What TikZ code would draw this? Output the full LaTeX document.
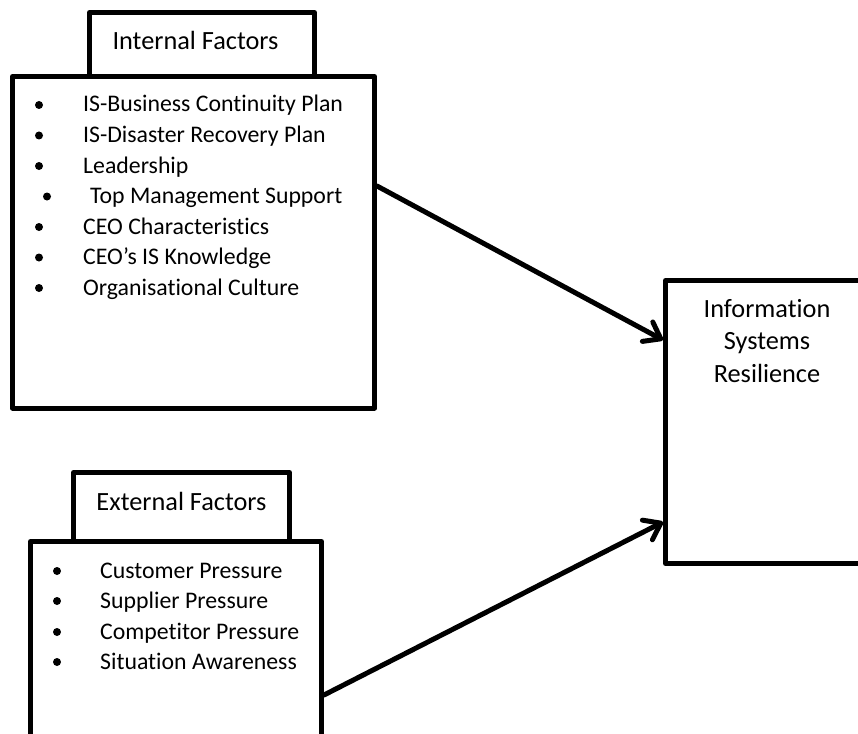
\documentclass[tikz,border=0pt]{standalone}
\usepackage{fontspec}
\setmainfont{Carlito}[Ligatures=NoCommon]
\usetikzlibrary{arrows.meta}
\tikzset{
  box/.style={draw=black, line width=5bp, rectangle, inner sep=0pt, line join=round},
  txt/.style={inner sep=0pt, font=\fontsize{23.8bp}{30.5bp}\selectfont},
  ttl/.style={inner sep=0pt, font=\fontsize{26.3bp}{32.5bp}\selectfont},
  bul/.style={circle, fill=black, inner sep=0pt, minimum size=8bp},
  link/.style={line width=5bp, line cap=round, -{Straight Barb[length=15bp,width=22bp,round]}}
}
\begin{document}
\begin{tikzpicture}[x=1bp,y=-1bp]
\clip (0,0) rectangle (858,734);
\fill[white] (0,0) rectangle (858,734);
% Internal factors
\node[box, minimum width=225bp, minimum height=64bp] (inttab) at (202,44.5) {};
\node[box, minimum width=362bp, minimum height=331.5bp] (intbox) at (193.5,242.25) {};
\node[ttl, anchor=base] (inttitle) at (195.5,50) {Internal Factors};
\node[bul] (ib1) at (39,105) {};
\node[bul] (ib2) at (39,135.5) {};
\node[bul] (ib3) at (39,166) {};
\node[bul] (ib4) at (47,196.5) {};
\node[bul] (ib5) at (39,227) {};
\node[bul] (ib6) at (39,257.5) {};
\node[bul] (ib7) at (39,288) {};
\node[txt, anchor=base west] (it1) at (83,112) {IS-Business Continuity Plan};
\node[txt, anchor=base west] (it2) at (83,142.5) {IS-Disaster Recovery Plan};
\node[txt, anchor=base west] (it3) at (83,173) {Leadership};
\node[txt, anchor=base west] (it4) at (90,203.5) {Top Management Support};
\node[txt, anchor=base west] (it5) at (83,234) {CEO Characteristics};
\node[txt, anchor=base west] (it6) at (83,264.5) {CEO’s IS Knowledge};
\node[txt, anchor=base west] (it7) at (83,295) {Organisational Culture};
% External factors
\node[box, minimum width=216bp, minimum height=69bp] (exttab) at (181.5,507) {};
\node[box, minimum width=291bp, minimum height=230bp] (extbox) at (176,656.5) {};
\node[ttl, anchor=base] (exttitle) at (181.5,510) {External Factors};
\node[bul] (eb1) at (57,571) {};
\node[bul] (eb2) at (57,601) {};
\node[bul] (eb3) at (57,632) {};
\node[bul] (eb4) at (57,662) {};
\node[txt, anchor=base west] (et1) at (100,578) {Customer Pressure};
\node[txt, anchor=base west] (et2) at (100,608) {Supplier Pressure};
\node[txt, anchor=base west] (et3) at (100,639) {Competitor Pressure};
\node[txt, anchor=base west] (et4) at (100,669) {Situation Awareness};
% Outcome
\node[box, minimum width=204bp, minimum height=283bp] (isr) at (767.5,422) {};
\node[ttl, anchor=base, align=center] (isrtext) at (767,382) {Information\\Systems\\Resilience};
% Connectors
\draw[link] ([yshift=-112bp]intbox.north east) -- ([yshift=-62bp]isr.north west);
\draw[link] ([yshift=-156bp]extbox.north east) -- ([yshift=-244bp]isr.north west);
\end{tikzpicture}
\end{document}
